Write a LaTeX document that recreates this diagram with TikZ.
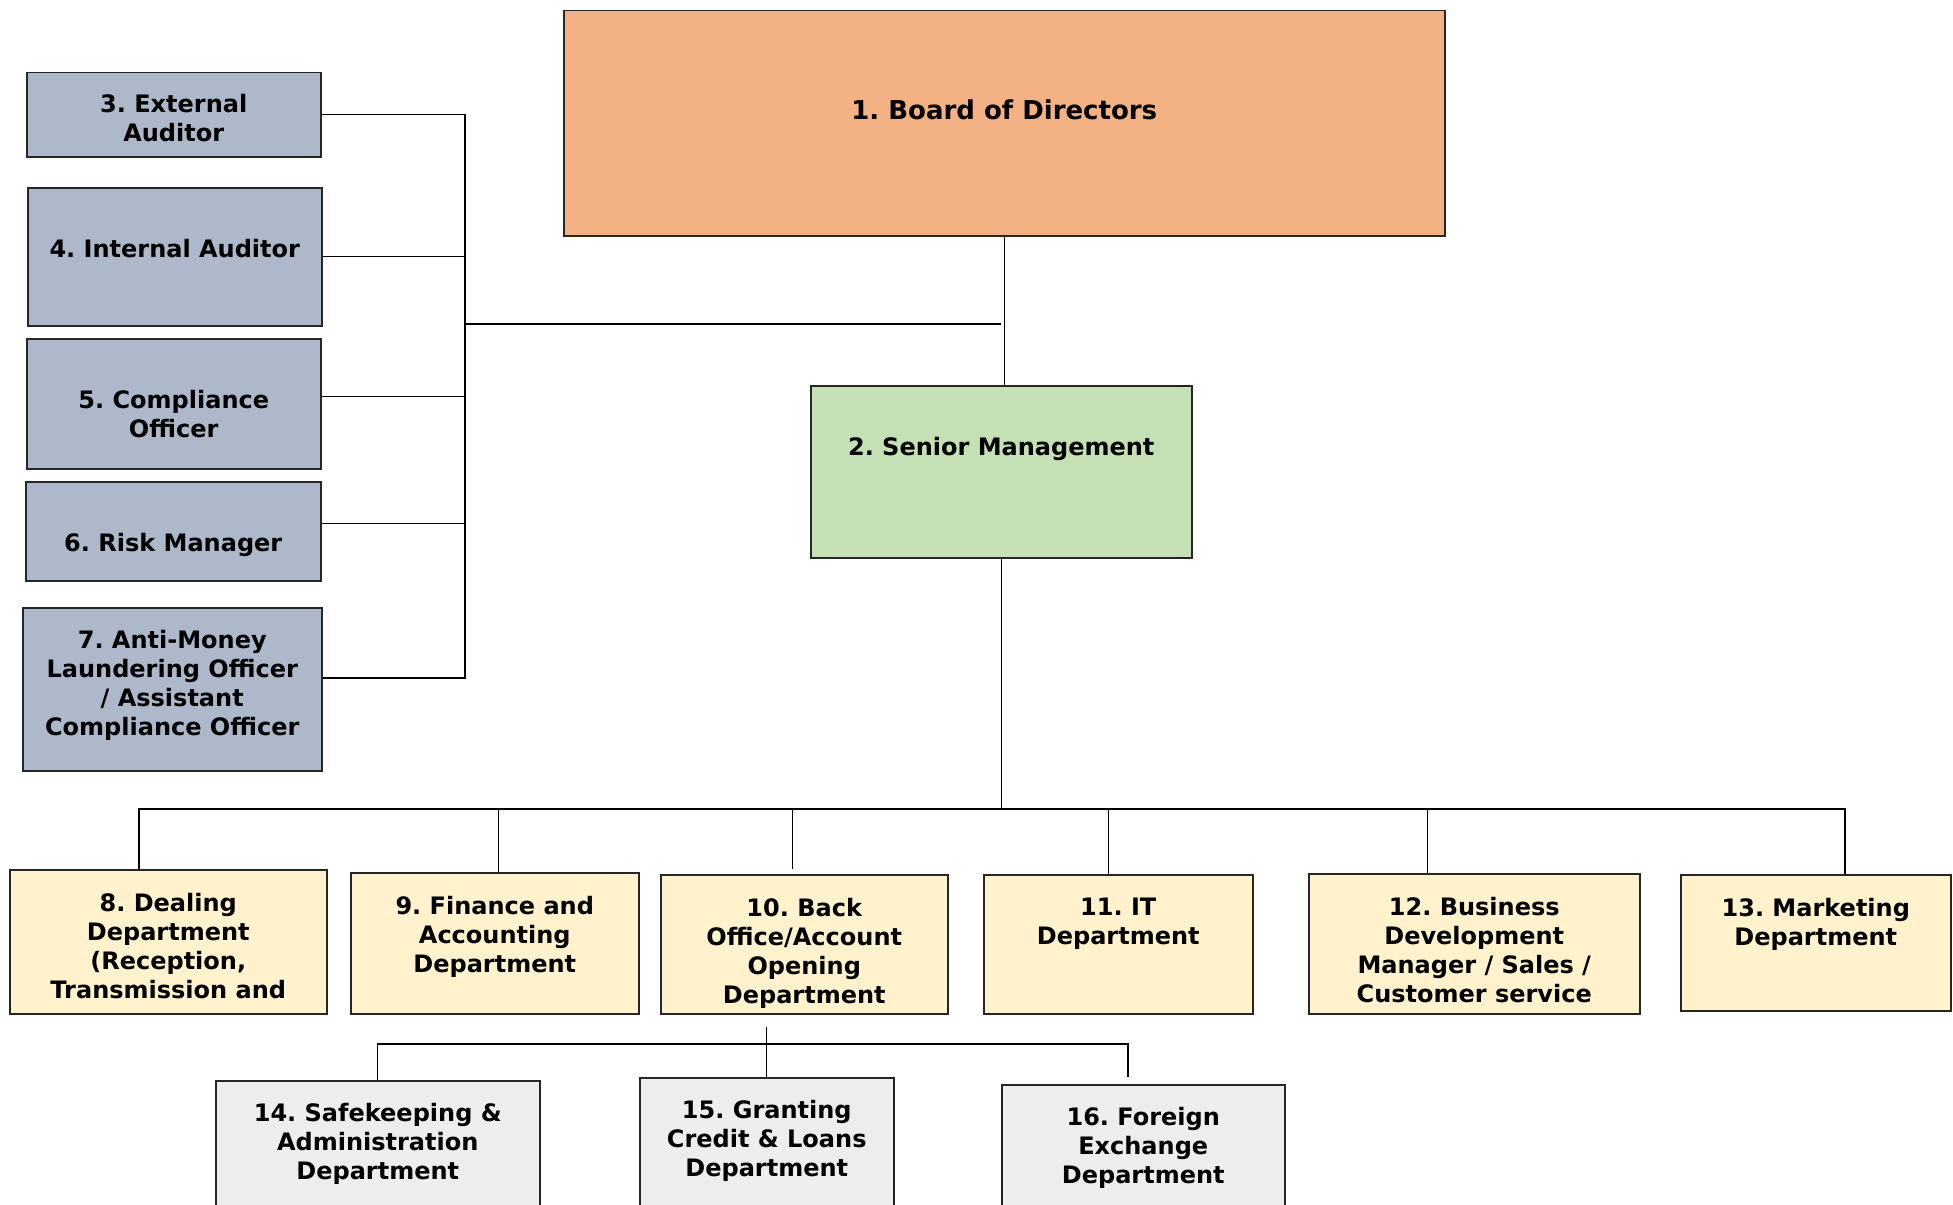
\documentclass[tikz,border=0pt]{standalone}
\usepackage{fontspec}
\setmainfont{DejaVu Sans}
\frenchspacing
\definecolor{boardfill}{HTML}{F4B183}
\definecolor{seniorfill}{HTML}{C5E0B4}
\definecolor{controlfill}{HTML}{ADB9CA}
\definecolor{deptfill}{HTML}{FFF2CC}
\definecolor{subfill}{HTML}{EDEDED}
\tikzset{
  orgbox/.style={draw=black!85, line width=1.5pt, inner sep=0pt, anchor=north west},
  boxlbl/.style={anchor=north, align=center, inner sep=0pt, yshift=-#1,
    font=\fontsize{24}{29}\selectfont\bfseries},
  boxlbl/.default=24pt,
  link/.style={line width=1.3pt, draw=black}
}
\begin{document}
\begin{tikzpicture}[x=1pt, y=-1pt]
\useasboundingbox (0,0) rectangle (1953,1204);
\clip (0,0) rectangle (1953,1204);
% top of the chart
\node[orgbox, fill=boardfill, minimum width=881pt, minimum height=225pt,
  label={[boxlbl=90pt, font=\fontsize{26}{31}\selectfont\bfseries]north:{1. Board of Directors}}] (board) at (563,10) {};
\node[orgbox, fill=seniorfill, minimum width=381pt, minimum height=172pt,
  label={[boxlbl=52pt]north:{2. Senior Management}}] (senior) at (810,385) {};
% control functions
\node[orgbox, fill=controlfill, minimum width=294pt, minimum height=84pt,
  label={[boxlbl=22pt]north:{3. External\\Auditor}}] (extaud) at (26,72) {};
\node[orgbox, fill=controlfill, minimum width=294pt, minimum height=138pt,
  label={[boxlbl=52pt]north:{4. Internal Auditor}}] (intaud) at (27,187) {};
\node[orgbox, fill=controlfill, minimum width=294pt, minimum height=130pt,
  label={[boxlbl=52pt]north:{5. Compliance\\Officer}}] (comp) at (26,338) {};
\node[orgbox, fill=controlfill, minimum width=295pt, minimum height=99pt,
  label={[boxlbl=52pt]north:{6. Risk Manager}}] (risk) at (25,481) {};
\node[orgbox, fill=controlfill, minimum width=299pt, minimum height=163pt,
  label={[boxlbl=23pt]north:{7. Anti-Money\\Laundering Officer\\/ Assistant\\Compliance Officer}}] (aml) at (22,607) {};
% departments
\node[orgbox, fill=deptfill, minimum width=317pt, minimum height=144pt,
  label={[boxlbl]north:{8. Dealing\\Department\\(Reception,\\Transmission and}}] (deal) at (9,869) {};
\node[orgbox, fill=deptfill, minimum width=288pt, minimum height=141pt,
  label={[boxlbl]north:{9. Finance and\\Accounting\\Department}}] (fin) at (350,872) {};
\node[orgbox, fill=deptfill, minimum width=287pt, minimum height=139pt,
  label={[boxlbl]north:{10. Back\\Office/Account\\Opening\\Department}}] (back) at (660,874) {};
\node[orgbox, fill=deptfill, minimum width=269pt, minimum height=139pt,
  label={[boxlbl]north:{11. IT\\Department}}] (it) at (983,874) {};
\node[orgbox, fill=deptfill, minimum width=331pt, minimum height=140pt,
  label={[boxlbl]north:{12. Business\\Development\\Manager / Sales /\\Customer service}}] (busdev) at (1308,873) {};
\node[orgbox, fill=deptfill, minimum width=270pt, minimum height=136pt,
  label={[boxlbl]north:{13. Marketing\\Department}}] (mkt) at (1680,874) {};
% back office units
\node[orgbox, fill=subfill, minimum width=324pt, minimum height=160pt,
  label={[boxlbl=23pt]north:{14. Safekeeping \&\\Administration\\Department}}] (safe) at (215,1080) {};
\node[orgbox, fill=subfill, minimum width=254pt, minimum height=163pt,
  label={[boxlbl=23pt]north:{15. Granting\\Credit \& Loans\\Department}}] (gran) at (639,1077) {};
\node[orgbox, fill=subfill, minimum width=283pt, minimum height=156pt,
  label={[boxlbl=23pt]north:{16. Foreign\\Exchange\\Department}}] (fx) at (1001,1084) {};
% connectors
\coordinate (lbus) at (465,678);
\coordinate (ctrl) at (465,324);
\coordinate (busl) at (139,809);
\coordinate (busr) at (1845,809);
\coordinate (subr) at (1128,1044);
\draw[link] (board.south) -- (board.south |- senior.north);
\draw[link] (extaud.east) -| (lbus) -- (lbus -| aml.east);
\draw[link] (intaud.east) -- (intaud.east -| lbus);
\draw[link] ([yshift=7pt]comp.east) -- ([yshift=7pt]comp.east -| lbus);
\draw[link] ([yshift=8pt]risk.east) -- ([yshift=8pt]risk.east -| lbus);
\draw[link] (ctrl) -- (ctrl -| senior.north);
\draw[link] (senior.south) -- (senior.south |- busl);
\draw[link] (busl |- deal.north) -- (busl) -- (busr) -- (busr |- mkt.north);
\draw[link] ([xshift=4pt]fin.north) -- ([xshift=4pt]fin.north |- busl);
\draw[link] ([xshift=-12pt,yshift=5pt]back.north) -- ([xshift=-12pt]back.north |- busl);
\draw[link] ([xshift=-10pt]it.north) -- ([xshift=-10pt]it.north |- busl);
\draw[link] ([xshift=-47pt]busdev.north) -- ([xshift=-47pt]busdev.north |- busl);
\draw[link] ([yshift=-12pt]back.south -| gran.north) -- (gran.north);
\draw[link] (safe.north) |- (subr) -- ([yshift=7pt]subr |- fx.north);
\end{tikzpicture}
\end{document}
